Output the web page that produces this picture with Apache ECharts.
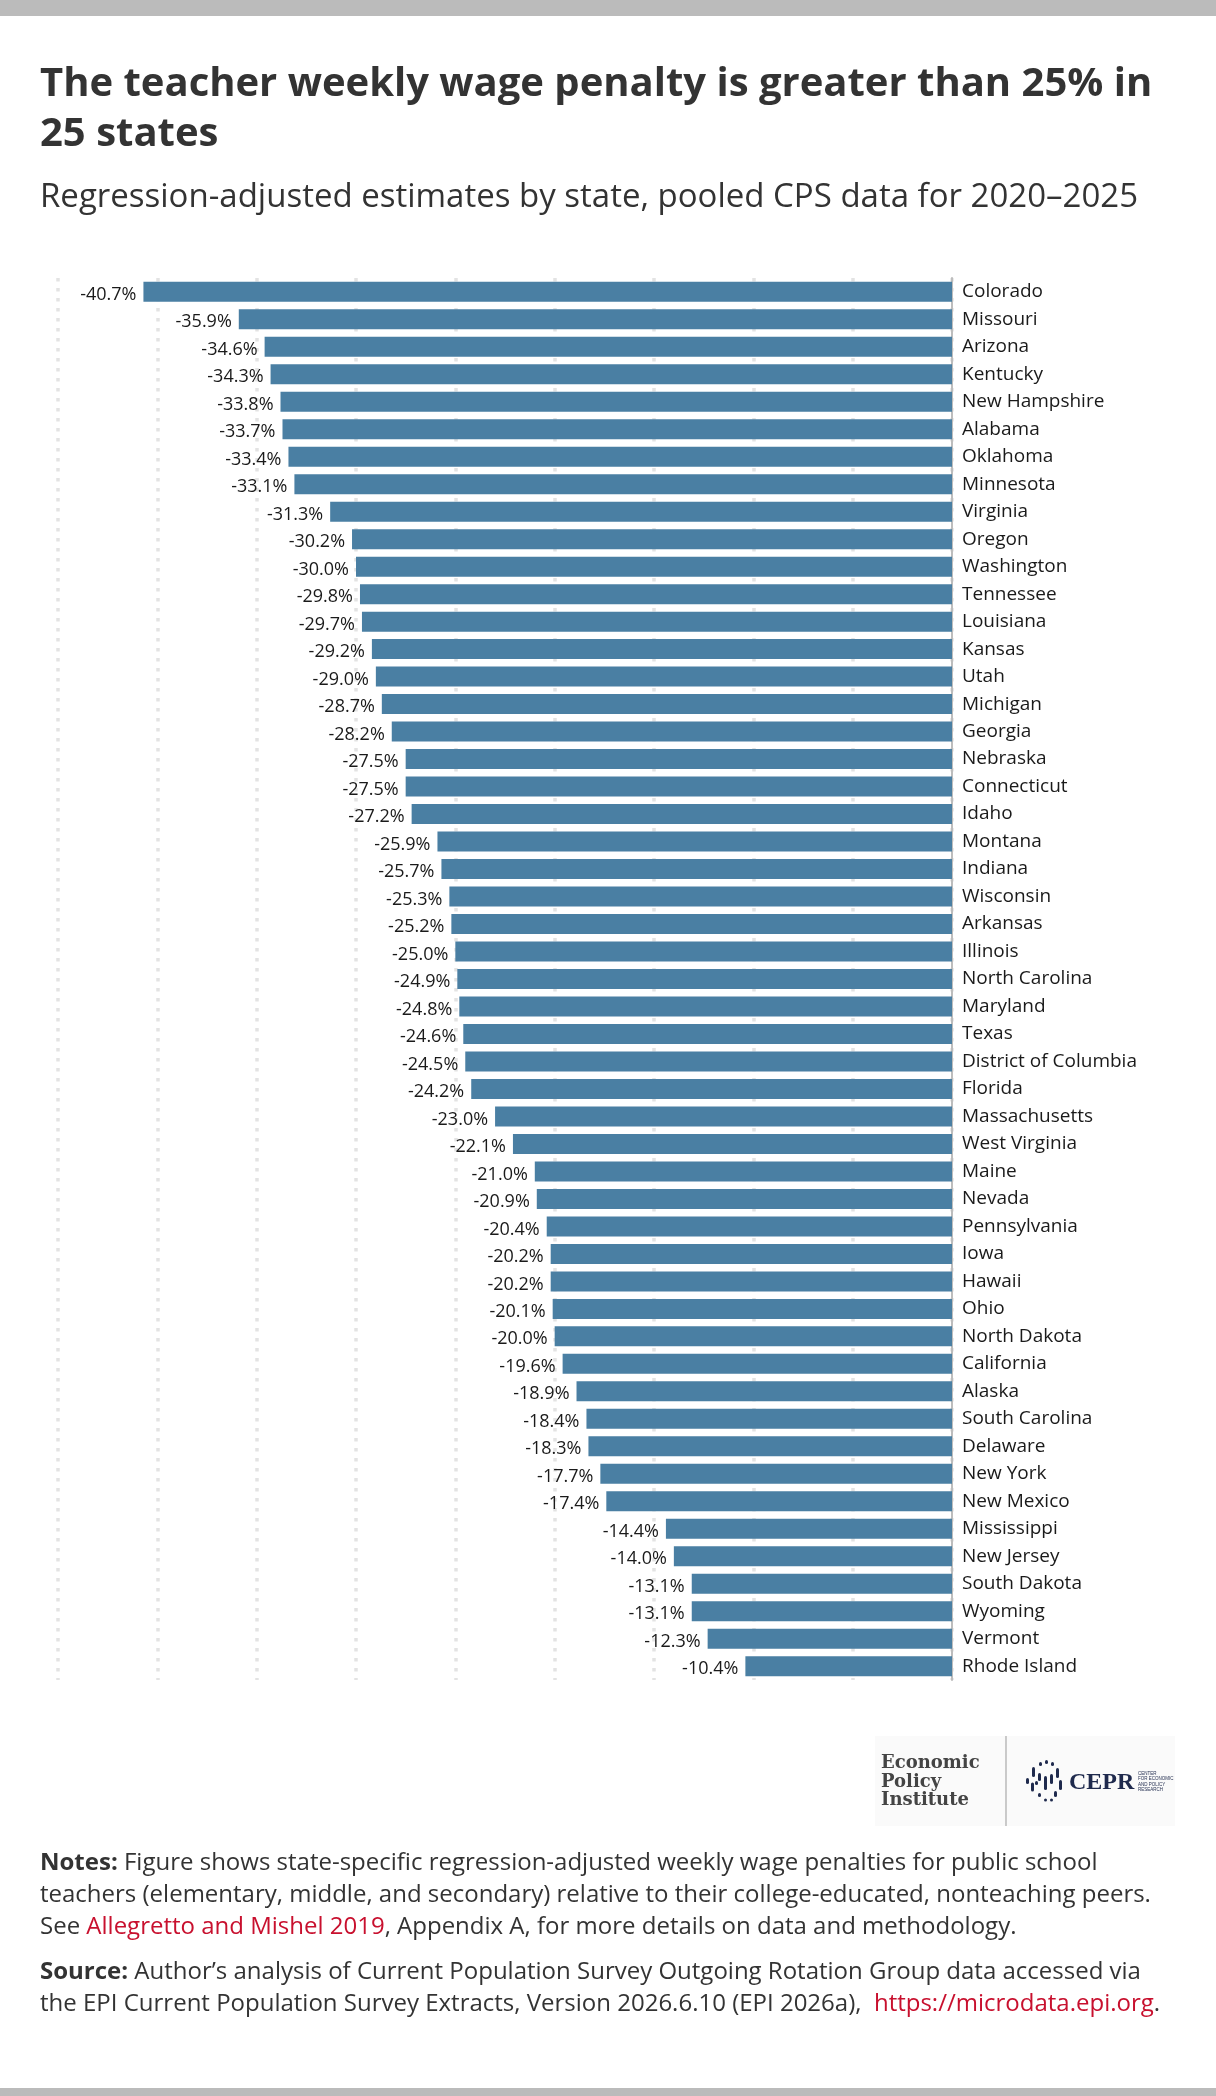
<!DOCTYPE html>
<html>
<head>
<meta charset="utf-8">
<script src="https://cdn.jsdelivr.net/npm/echarts@6/dist/echarts.min.js"></script>
<style>
  html, body { margin: 0; padding: 0; background: #fff; }
  #container { width: 1216px; height: 2096px; }
</style>
</head>
<body>
<div id="container"></div>
<script>
// data, top to bottom
var states = ['Colorado', 'Missouri', 'Arizona', 'Kentucky', 'New Hampshire', 'Alabama', 'Oklahoma',
  'Minnesota', 'Virginia', 'Oregon', 'Washington', 'Tennessee', 'Louisiana', 'Kansas', 'Utah',
  'Michigan', 'Georgia', 'Nebraska', 'Connecticut', 'Idaho', 'Montana', 'Indiana', 'Wisconsin',
  'Arkansas', 'Illinois', 'North Carolina', 'Maryland', 'Texas', 'District of Columbia', 'Florida',
  'Massachusetts', 'West Virginia', 'Maine', 'Nevada', 'Pennsylvania', 'Iowa', 'Hawaii', 'Ohio',
  'North Dakota', 'California', 'Alaska', 'South Carolina', 'Delaware', 'New York', 'New Mexico',
  'Mississippi', 'New Jersey', 'South Dakota', 'Wyoming', 'Vermont', 'Rhode Island'];
var penalty = [-40.7, -35.9, -34.6, -34.3, -33.8, -33.7, -33.4, -33.1, -31.3, -30.2, -30.0, -29.8,
  -29.7, -29.2, -29.0, -28.7, -28.2, -27.5, -27.5, -27.2, -25.9, -25.7, -25.3, -25.2, -25.0, -24.9,
  -24.8, -24.6, -24.5, -24.2, -23.0, -22.1, -21.0, -20.9, -20.4, -20.2, -20.2, -20.1, -20.0, -19.6,
  -18.9, -18.4, -18.3, -17.7, -17.4, -14.4, -14.0, -13.1, -13.1, -12.3, -10.4];
var xMin = -45, xMax = 0, xStep = 5;

var titleLines = ['The teacher weekly wage penalty is greater than 25% in', '25 states'];
var subtitle = 'Regression-adjusted estimates by state, pooled CPS data for 2020\u20132025';

var font = '"Open Sans", Lato, sans-serif';
var navy = '#1f2a4d';

// CEPR mark: short vertical dashes arranged in a ring
var ceprDots = [];
[[-3, -17, 4], [3, -19, 4], [9, -17, 4], [-10, -9, 10], [-16, 0, 6], [-11, 6, 9], [-4, 14, 4],
 [2, 19, 3], [8, 19, 3], [-4, -4, 8], [2, 2, 14], [8, -2, 10], [14, -8, 10], [17, 4, 10], [12, 13, 6],
 [-7, 2, 4]].forEach(function (d) {
  ceprDots.push({
    type: 'rect', shape: { x: 1042 + d[0], y: 1781 + d[1] - d[2] / 2, width: 3, height: d[2], r: 1.5 },
    style: { fill: navy }
  });
});

var noteRich = {
  b: { fontWeight: 'bold', fontSize: 24, fontFamily: 'Open Sans', fill: '#333', lineHeight: 32 },
  r: { fill: '#c8102e', fontSize: 24, fontFamily: 'Open Sans', lineHeight: 32 }
};

var chart = echarts.init(document.getElementById('container'));
chart.setOption({
  animation: false,
  backgroundColor: '#fff',
  grid: { left: 58, right: 264, top: 278, height: 1402 },
  xAxis: {
    type: 'value', min: xMin, max: xMax, interval: xStep,
    axisLine: { show: false }, axisTick: { show: false }, axisLabel: { show: false },
    splitLine: { show: true, lineStyle: { color: '#e3e3e3', width: 3.5, type: [3.5, 6.5] } }
  },
  yAxis: {
    type: 'category', data: states, inverse: true, position: 'right',
    axisLine: { show: true, lineStyle: { color: '#bdbdbd', width: 2 } },
    axisTick: { show: false },
    axisLabel: { color: '#1a1a1a', fontSize: 19, fontFamily: font, margin: 10 }
  },
  series: [{
    type: 'bar', data: penalty, barWidth: 20,
    itemStyle: { color: '#4a7fa3' },
    label: {
      show: true, position: 'left', distance: 7, offset: [0, 3],
      color: '#1a1a1a', fontSize: 18, fontFamily: font,
      formatter: function (p) { return p.value.toFixed(1) + '%'; }
    }
  }],
  graphic: [
    { type: 'rect', shape: { x: 0, y: 0, width: 1216, height: 16 }, style: { fill: '#bbbbbb' } },
    { type: 'rect', shape: { x: 0, y: 2088, width: 1216, height: 8 }, style: { fill: '#bbbbbb' } },
    { type: 'text', x: 40, y: 85, style: { text: titleLines[0], font: 'bold 40px ' + font, fill: '#333', verticalAlign: 'middle' } },
    { type: 'text', x: 40, y: 135, style: { text: titleLines[1], font: 'bold 40px ' + font, fill: '#333', verticalAlign: 'middle' } },
    { type: 'text', x: 40, y: 198, style: { text: subtitle, font: '33px ' + font, fill: '#333', verticalAlign: 'middle' } },

    // logo block
    { type: 'rect', shape: { x: 875, y: 1736, width: 300, height: 90 }, style: { fill: '#fafafa' } },
    { type: 'text', x: 881, y: 1782, style: { text: 'Economic\nPolicy\nInstitute', font: 'bold 18px "DejaVu Serif", serif', lineHeight: 18.5, fill: '#444', verticalAlign: 'middle' } },
    { type: 'line', shape: { x1: 1006, y1: 1736, x2: 1006, y2: 1826 }, style: { stroke: '#999', lineWidth: 1 } },
    { type: 'group', children: ceprDots },
    { type: 'text', x: 1069, y: 1783, style: { text: 'CEPR', font: 'bold 24px "Liberation Serif", serif', fill: navy, verticalAlign: 'middle' } },
    { type: 'text', x: 1138, y: 1782, style: { text: 'CENTER\nFOR ECONOMIC\nAND POLICY\nRESEARCH', font: '4.5px sans-serif', lineHeight: 5.5, fill: navy, verticalAlign: 'middle' } },

    // notes and source
    { type: 'text', x: 40, y: 1847, style: {
      text: '{b|Notes:} Figure shows state-specific regression-adjusted weekly wage penalties for public school\n' +
            'teachers (elementary, middle, and secondary) relative to their college-educated, nonteaching peers.\n' +
            'See {r|Allegretto and Mishel 2019}, Appendix A, for more details on data and methodology.',
      font: '24px ' + font, fill: '#333', lineHeight: 32, rich: noteRich
    } },
    { type: 'text', x: 40, y: 1956, style: {
      text: '{b|Source:} Author\u2019s analysis of Current Population Survey Outgoing Rotation Group data accessed via\n' +
            'the EPI Current Population Survey Extracts, Version 2026.6.10 (EPI 2026a),  {r|https://microdata.epi.org}.',
      font: '24px ' + font, fill: '#333', lineHeight: 32, rich: noteRich
    } }
  ]
});
</script>
</body>
</html>
